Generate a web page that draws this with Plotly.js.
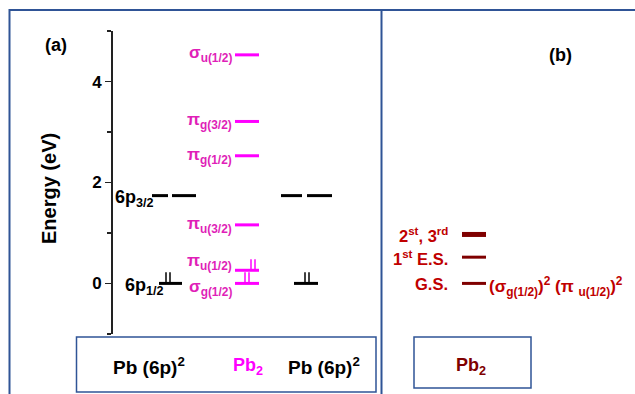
<!DOCTYPE html>
<html><head><meta charset="utf-8">
<script src="https://cdn.plot.ly/plotly-3.0.1.min.js"></script>
<style>html,body{margin:0;padding:0;background:#fff}#chart{width:635px;height:394px}</style>
</head><body><div id="chart"></div>
<script>
// ---------- data ----------
const atomLabels = ['6p<sub>1/2</sub>', '6p<sub>3/2</sub>'];
const atomEnergies = [0, 1.74];
const atomElectrons = [2, 0];
const pb2Labels = ['σ<sub>g(1/2)</sub>', 'π<sub>u(1/2)</sub>', 'π<sub>u(3/2)</sub>', 'π<sub>g(1/2)</sub>', 'π<sub>g(3/2)</sub>', 'σ<sub>u(1/2)</sub>'];
const pb2Energies = [0, 0.26, 1.16, 2.53, 3.21, 4.53];
const pb2Electrons = [2, 2, 0, 0, 0, 0];
const stateLabels = ['G.S.', '1<sup>st</sup> E.S.', '2<sup>st</sup>, 3<sup>rd</sup>'];
const stateEnergies = [0, 0.52, 0.97];
const gsConfig = '(σ<sub>g(1/2)</sub>)<sup>2</sup> (π <sub>u(1/2)</sub>)<sup>2</sup>';
const columnLabels = ['Pb (6p)<sup>2</sup>', 'Pb<sub>2</sub>', 'Pb (6p)<sup>2</sup>'];
const panelBLabel = 'Pb<sub>2</sub>';
const yTickVals = [0, 2, 4];
const yTickText = ['0', '2', '4'];

// ---------- layout constants (pixels) ----------
const W = 635, H = 394;
const FONT = 'Liberation Sans, Arial, sans-serif';
const BLACK = '#000000', MAG = '#ff00ff', MAGTXT = '#e01fb8', DRED = '#7f0000', RED = '#c00000', BLUE = '#2f5496';
const px = x => x / W, py = y => 1 - y / H;
const leftAtomSegs = [[[159, 182]], [[152, 168], [172, 196]]];
const rightAtomSegs = [[[294, 318]], [[281, 302], [307, 332]]];
const leftAtomElec = [166, 170], rightAtomElec = [305, 309];
const pb2Seg = [235, 259];
const pb2Elec = [[245, 249], [251, 255]];
const pb2LabelShift = [-5, 8, 0, 0, 0, 1];
const stateSeg = [462, 486];
const stateWidths = [3, 3, 5];
const elecH = 0.22;

const traces = [];
function levelTrace(segs, E, color, width) {
  const x = [], y = [];
  segs.forEach(s => { x.push(s[0], s[1], null); y.push(E, E, null); });
  traces.push({x, y, mode: 'lines', line: {color, width}, hoverinfo: 'skip', showlegend: false, cliponaxis: false});
}
function elecTrace(xs, E, color) {
  const x = [], y = [];
  xs.forEach(xx => { x.push(xx, xx, null); y.push(E, E + elecH, null); });
  traces.push({x, y, mode: 'lines', line: {color, width: 1.5}, hoverinfo: 'skip', showlegend: false, cliponaxis: false});
}
atomEnergies.forEach((E, i) => {
  levelTrace(leftAtomSegs[i], E, BLACK, 3);
  levelTrace(rightAtomSegs[i], E, BLACK, 3);
  if (atomElectrons[i] === 2) { elecTrace(leftAtomElec, E, BLACK); elecTrace(rightAtomElec, E, BLACK); }
});
pb2Energies.forEach((E, i) => {
  levelTrace([pb2Seg], E, MAG, 3);
  if (pb2Electrons[i] === 2) elecTrace(pb2Elec[i], E, MAG);
});
stateEnergies.forEach((E, i) => levelTrace([stateSeg], E, DRED, stateWidths[i]));

const ann = [];
const bold = (s) => '<b>' + s + '</b>';
function A(o) { ann.push(Object.assign({showarrow: false, font: {family: FONT, size: 16, color: BLACK}}, o)); }

// atomic labels (left column only)
A({xref: 'x', yref: 'y', x: 156, y: atomEnergies[1], xanchor: 'right', yanchor: 'middle', yshift: -3, text: bold(atomLabels[1]), font: {family: FONT, size: 18, color: BLACK}});
A({xref: 'x', yref: 'y', x: 166, y: atomEnergies[0], xanchor: 'right', yanchor: 'middle', yshift: -3, text: bold(atomLabels[0]), font: {family: FONT, size: 18, color: BLACK}});
// Pb2 orbital labels
pb2Labels.forEach((t, i) => A({xref: 'x', yref: 'y', x: 234, y: pb2Energies[i], xanchor: 'right', yanchor: 'middle', yshift: pb2LabelShift[i], text: bold(t), font: {family: FONT, size: 17, color: MAGTXT}}));
// panel b states
stateLabels.forEach((t, i) => A({xref: 'x', yref: 'y', x: 450, y: stateEnergies[i], xanchor: 'right', yanchor: 'middle', yshift: -1, text: bold(t), font: {family: FONT, size: 16.5, color: RED}}));
A({xref: 'x', yref: 'y', x: 487, y: stateEnergies[0], xanchor: 'left', yanchor: 'middle', yshift: -3, text: bold(gsConfig), font: {family: FONT, size: 17, color: RED}});
// panel tags
A({xref: 'paper', yref: 'paper', x: px(56), y: py(45), xanchor: 'center', yanchor: 'middle', text: bold('(a)'), font: {family: FONT, size: 18, color: BLACK}});
A({xref: 'paper', yref: 'paper', x: px(560), y: py(55), xanchor: 'center', yanchor: 'middle', text: bold('(b)'), font: {family: FONT, size: 18, color: BLACK}});
// y title
A({xref: 'paper', yref: 'paper', x: px(49), y: py(189), xanchor: 'center', yanchor: 'middle', textangle: -90, text: bold('Energy (eV)'), font: {family: FONT, size: 20, color: BLACK}});
// column labels
const colX = [149, 248, 324];
const colColor = [BLACK, MAG, BLACK];
columnLabels.forEach((t, i) => A({xref: 'paper', yref: 'paper', x: px(colX[i]), y: py(366), xanchor: 'center', yanchor: 'middle', text: bold(t), font: {family: FONT, size: i === 1 ? 18 : 19, color: colColor[i]}}));
A({xref: 'paper', yref: 'paper', x: px(471), y: py(366), xanchor: 'center', yanchor: 'middle', text: bold(panelBLabel), font: {family: FONT, size: 18, color: DRED}});

const shapes = [
  {type: 'path', xref: 'paper', yref: 'paper', path: `M ${px(9.5)} ${py(400)} L ${px(9.5)} ${py(10)} L ${px(640)} ${py(10)}`, line: {color: BLUE, width: 2}},
  {type: 'line', xref: 'paper', yref: 'paper', x0: px(381.5), x1: px(381.5), y0: py(10), y1: py(400), line: {color: BLUE, width: 2}},
  {type: 'rect', xref: 'paper', yref: 'paper', x0: px(76.5), x1: px(376), y0: py(337), y1: py(392), line: {color: BLUE, width: 1.5}},
  {type: 'rect', xref: 'paper', yref: 'paper', x0: px(414), x1: px(531), y0: py(337), y1: py(388), line: {color: BLUE, width: 1.5}}
];

const layout = {
  width: W, height: H,
  margin: {l: 0, r: 0, t: 0, b: 0, pad: 0},
  paper_bgcolor: '#ffffff', plot_bgcolor: 'rgba(0,0,0,0)',
  showlegend: false,
  xaxis: {range: [0, W], domain: [0, 1], visible: false, fixedrange: true},
  yaxis: {
    anchor: 'free', position: 111 / W, domain: [py(334), py(31)],
    range: [-1.003, 5.003], showgrid: false, zeroline: false,
    showline: true, linecolor: '#222', linewidth: 1.5,
    ticks: 'outside', ticklen: 6, tickwidth: 1.5, tickcolor: '#222',
    tickmode: 'array', tickvals: yTickVals, ticktext: yTickText,
    tickfont: {family: FONT, size: 17, color: BLACK, weight: 'bold'},
    minor: {tickmode: 'array', tickvals: [-1, 1, 3, 5], ticks: 'outside', ticklen: 4, tickwidth: 1.5, tickcolor: '#222', showgrid: false},
    fixedrange: true
  },
  annotations: ann, shapes: shapes
};
Plotly.newPlot('chart', traces, layout, {displayModeBar: false, staticPlot: true});
</script></body></html>
